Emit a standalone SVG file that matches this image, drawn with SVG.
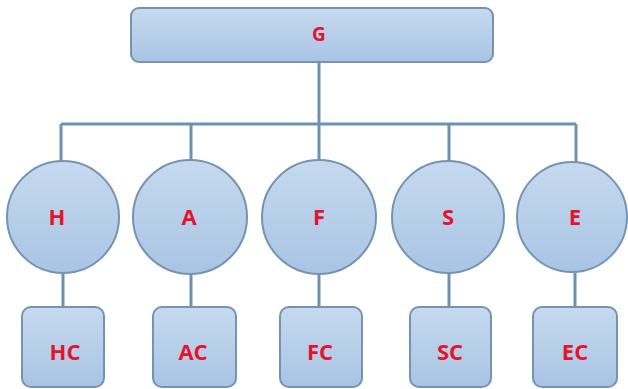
<svg xmlns="http://www.w3.org/2000/svg" width="628" height="389" viewBox="0 0 628 389">
  <defs>
    <linearGradient id="fillBlue" x1="0" y1="0" x2="0" y2="1">
      <stop offset="0" stop-color="#c6daef"/>
      <stop offset="1" stop-color="#a9c4e4"/>
    </linearGradient>
    <style>
      .shape { fill: url(#fillBlue); stroke: #7593b4; stroke-width: 2; }
      .link { fill: none; stroke: #6f90b3; stroke-width: 3; }
      .label { font-family: "Open Sans", "Liberation Sans", sans-serif; font-weight: bold; font-size: 22px; fill: #e5132c; text-anchor: middle; dominant-baseline: central; }
      .top { font-size: 19px; }
    </style>
  </defs>
  <rect width="628" height="389" fill="#ffffff"/>

  <g id="connectors">
    <path class="link" d="M319 62 V124 M61 124 H576 M61 124 V162 M191 124 V161 M319 124 V161 M449 124 V161 M576 124 V162"/>
    <path class="link" d="M63 273 V307 M191 273 V307 M319 273 V307 M449 273 V307 M575 273 V307"/>
  </g>

  <g id="node-G">
    <rect class="shape" x="131" y="8" width="362" height="54" rx="8"/>
    <text class="label top" x="319" y="34">G</text>
  </g>

  <g id="node-H">
    <circle class="shape" cx="63" cy="217" r="56"/>
    <text class="label" x="57" y="216">H</text>
  </g>
  <g id="node-A">
    <circle class="shape" cx="190" cy="217" r="57"/>
    <text class="label" x="189" y="216">A</text>
  </g>
  <g id="node-F">
    <circle class="shape" cx="319" cy="217" r="57"/>
    <text class="label" x="319" y="216">F</text>
  </g>
  <g id="node-S">
    <circle class="shape" cx="448" cy="217" r="56"/>
    <text class="label" x="448" y="216">S</text>
  </g>
  <g id="node-E">
    <circle class="shape" cx="572" cy="217" r="55"/>
    <text class="label" x="575" y="216">E</text>
  </g>

  <g id="node-HC">
    <rect class="shape" x="22" y="307" width="82" height="80" rx="9"/>
    <text class="label" x="65" y="351">HC</text>
  </g>
  <g id="node-AC">
    <rect class="shape" x="153" y="307" width="83" height="80" rx="9"/>
    <text class="label" x="193" y="351">AC</text>
  </g>
  <g id="node-FC">
    <rect class="shape" x="280" y="307" width="82" height="80" rx="9"/>
    <text class="label" x="320" y="351">FC</text>
  </g>
  <g id="node-SC">
    <rect class="shape" x="410" y="307" width="81" height="80" rx="9"/>
    <text class="label" x="450" y="351">SC</text>
  </g>
  <g id="node-EC">
    <rect class="shape" x="533" y="307" width="84" height="80" rx="9"/>
    <text class="label" x="575" y="351">EC</text>
  </g>
</svg>
